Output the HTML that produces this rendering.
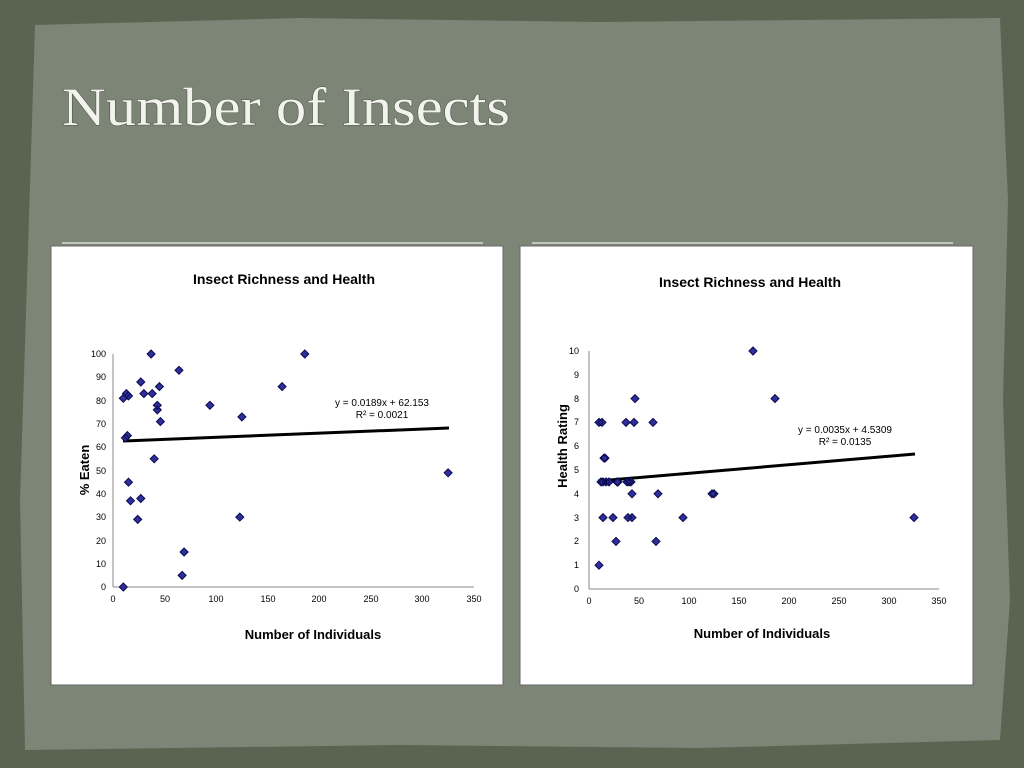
<!DOCTYPE html>
<html><head><meta charset="utf-8"><style>
html,body{margin:0;padding:0;background:#59624f;}
svg{display:block}
</style></head><body>
<svg width="1024" height="768" viewBox="0 0 1024 768" xmlns="http://www.w3.org/2000/svg" font-family="Liberation Sans, sans-serif">
<rect width="1024" height="768" fill="#5b6451"/>
<path d="M35,25 L300,18 L600,22 L1000,18 L1008,200 L1003,400 L1010,600 L1000,740 L700,748 L400,745 L25,750 L20,500 L28,250 Z" fill="#7c8576"/>
<text x="62" y="125" font-family="Liberation Serif, serif" font-size="54" fill="#f3f3ee" textLength="448" lengthAdjust="spacingAndGlyphs" style="paint-order:stroke" stroke="#4a5244" stroke-width="1">Number of Insects</text>
<line x1="62" y1="243" x2="483" y2="243" stroke="#d8dcd4" stroke-width="1.5"/>
<line x1="532" y1="243" x2="953" y2="243" stroke="#d8dcd4" stroke-width="1.5"/>
<rect x="51" y="246" width="452" height="439" fill="#fff" stroke="#666" stroke-width="1"/>
<rect x="520" y="246" width="453" height="439" fill="#fff" stroke="#666" stroke-width="1"/>
<g id="left">
<text x="284" y="284" text-anchor="middle" font-size="14" font-weight="bold">Insect Richness and Health</text>
<line x1="113" y1="354" x2="113" y2="587" stroke="#888"/>
<line x1="113" y1="587" x2="474" y2="587" stroke="#888"/>
<g font-size="9" text-anchor="end">
<text x="106" y="590">0</text><text x="106" y="567">10</text><text x="106" y="544">20</text><text x="106" y="520">30</text><text x="106" y="497">40</text><text x="106" y="474">50</text><text x="106" y="450">60</text><text x="106" y="427">70</text><text x="106" y="404">80</text><text x="106" y="380">90</text><text x="106" y="357">100</text>
</g>
<g font-size="9" text-anchor="middle">
<text x="113" y="602">0</text><text x="165" y="602">50</text><text x="216" y="602">100</text><text x="268" y="602">150</text><text x="319" y="602">200</text><text x="371" y="602">250</text><text x="422" y="602">300</text><text x="474" y="602">350</text>
</g>
<text x="313" y="639" text-anchor="middle" font-size="13" font-weight="bold">Number of Individuals</text>
<text transform="translate(89,470) rotate(-90)" text-anchor="middle" font-size="13" font-weight="bold">% Eaten</text>
<line x1="123" y1="441" x2="449" y2="428" stroke="#000" stroke-width="3"/>
<text x="382" y="406" text-anchor="middle" font-size="10">y = 0.0189x + 62.153</text>
<text x="382" y="418" text-anchor="middle" font-size="10">R² = 0.0021</text>
</g>
<g id="right">
<text x="750" y="287" text-anchor="middle" font-size="14" font-weight="bold">Insect Richness and Health</text>
<line x1="589" y1="351" x2="589" y2="589" stroke="#888"/>
<line x1="589" y1="589" x2="939" y2="589" stroke="#888"/>
<g font-size="9" text-anchor="end">
<text x="579" y="592">0</text><text x="579" y="568">1</text><text x="579" y="544">2</text><text x="579" y="521">3</text><text x="579" y="497">4</text><text x="579" y="473">5</text><text x="579" y="449">6</text><text x="579" y="425">7</text><text x="579" y="402">8</text><text x="579" y="378">9</text><text x="579" y="354">10</text>
</g>
<g font-size="9" text-anchor="middle">
<text x="589" y="604">0</text><text x="639" y="604">50</text><text x="689" y="604">100</text><text x="739" y="604">150</text><text x="789" y="604">200</text><text x="839" y="604">250</text><text x="889" y="604">300</text><text x="939" y="604">350</text>
</g>
<text x="762" y="638" text-anchor="middle" font-size="13" font-weight="bold">Number of Individuals</text>
<text transform="translate(567,446) rotate(-90)" text-anchor="middle" font-size="13" font-weight="bold">Health Rating</text>
<line x1="598" y1="481" x2="915" y2="454" stroke="#000" stroke-width="3"/>
<text x="845" y="433" text-anchor="middle" font-size="10">y = 0.0035x + 4.5309</text>
<text x="845" y="445" text-anchor="middle" font-size="10">R² = 0.0135</text>
</g>
<path fill="#2e2f9a" stroke="#0a0a50" stroke-width="1" d="
M123.3,583l4,4l-4,4l-4,-4z
M123.3,394.3l4,4l-4,4l-4,-4z
M126.4,389.6l4,4l-4,4l-4,-4z
M128.5,391.9l4,4l-4,4l-4,-4z
M125.4,433.9l4,4l-4,4l-4,-4z
M127.4,431.6l4,4l-4,4l-4,-4z
M128.5,478.2l4,4l-4,4l-4,-4z
M130.5,496.8l4,4l-4,4l-4,-4z
M137.7,515.4l4,4l-4,4l-4,-4z
M140.8,494.5l4,4l-4,4l-4,-4z
M140.8,378l4,4l-4,4l-4,-4z
M143.9,389.6l4,4l-4,4l-4,-4z
M151.1,350l4,4l-4,4l-4,-4z
M152.2,389.6l4,4l-4,4l-4,-4z
M154.2,454.8l4,4l-4,4l-4,-4z
M157.3,401.3l4,4l-4,4l-4,-4z
M157.3,405.9l4,4l-4,4l-4,-4z
M159.4,382.6l4,4l-4,4l-4,-4z
M160.4,417.6l4,4l-4,4l-4,-4z
M179,366.3l4,4l-4,4l-4,-4z
M182.1,571.4l4,4l-4,4l-4,-4z
M184.1,548l4,4l-4,4l-4,-4z
M209.9,401.3l4,4l-4,4l-4,-4z
M239.8,513.1l4,4l-4,4l-4,-4z
M241.9,412.9l4,4l-4,4l-4,-4z
M282.1,382.6l4,4l-4,4l-4,-4z
M304.8,350l4,4l-4,4l-4,-4z
M448.1,468.8l4,4l-4,4l-4,-4z
M599,561.2l4,4l-4,4l-4,-4z
M599,418.4l4,4l-4,4l-4,-4z
M602,418.4l4,4l-4,4l-4,-4z
M604,454.1l4,4l-4,4l-4,-4z
M605,454.1l4,4l-4,4l-4,-4z
M601,477.9l4,4l-4,4l-4,-4z
M603,477.9l4,4l-4,4l-4,-4z
M606,477.9l4,4l-4,4l-4,-4z
M609,477.9l4,4l-4,4l-4,-4z
M603,513.6l4,4l-4,4l-4,-4z
M613,513.6l4,4l-4,4l-4,-4z
M616,537.4l4,4l-4,4l-4,-4z
M617,477.9l4,4l-4,4l-4,-4z
M618,477.9l4,4l-4,4l-4,-4z
M626,418.4l4,4l-4,4l-4,-4z
M627,477.9l4,4l-4,4l-4,-4z
M628,513.6l4,4l-4,4l-4,-4z
M629,477.9l4,4l-4,4l-4,-4z
M631,477.9l4,4l-4,4l-4,-4z
M632,513.6l4,4l-4,4l-4,-4z
M632,489.8l4,4l-4,4l-4,-4z
M634,418.4l4,4l-4,4l-4,-4z
M635,394.6l4,4l-4,4l-4,-4z
M653,418.4l4,4l-4,4l-4,-4z
M656,537.4l4,4l-4,4l-4,-4z
M658,489.8l4,4l-4,4l-4,-4z
M683,513.6l4,4l-4,4l-4,-4z
M712,489.8l4,4l-4,4l-4,-4z
M714,489.8l4,4l-4,4l-4,-4z
M753,347l4,4l-4,4l-4,-4z
M775,394.6l4,4l-4,4l-4,-4z
M914,513.6l4,4l-4,4l-4,-4z
"/>
</svg>
</body></html>
